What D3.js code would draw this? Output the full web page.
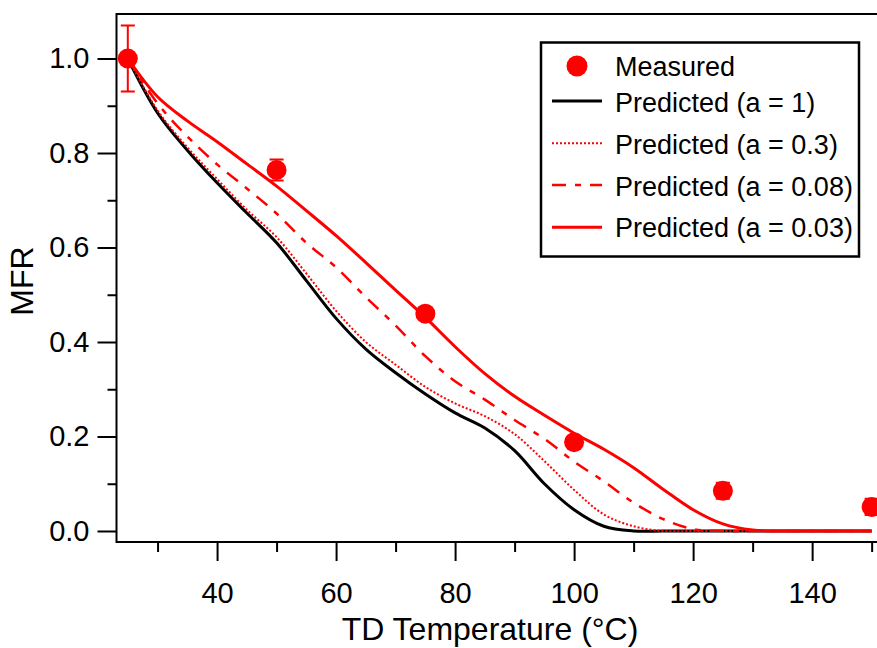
<!DOCTYPE html>
<html>
<head>
<meta charset="utf-8">
<script src="https://cdn.jsdelivr.net/npm/d3@7"></script>
<style>
  body { margin: 0; background: #fff; }
  svg { display: block; font-family: "Liberation Sans", Arial, sans-serif; }
</style>
</head>
<body>
<svg id="chart" width="877" height="648"></svg>
<script>
// measured points
const measTemp = [25, 50, 75, 100, 125, 150];
const measMfr = [1.0, 0.764, 0.46, 0.188, 0.085, 0.051];
const measErr = [0.07, 0.022, 0.004, 0.008, 0.017, 0.017];

// model curves, shared temperature grid
const gridTemp = [25, 30, 35, 40, 45, 50, 55, 60, 65, 70, 75, 80, 85, 90, 95, 100, 105, 110, 115, 120, 125, 130, 135, 140, 145, 150];
const predA1   = [1, 0.885, 0.806, 0.737, 0.673, 0.61, 0.53, 0.45, 0.385, 0.335, 0.29, 0.25, 0.218, 0.17, 0.10, 0.045, 0.01, 0, 0, 0, 0, 0, 0, 0, 0, 0];
const predA03  = [1, 0.89, 0.812, 0.745, 0.68, 0.622, 0.545, 0.466, 0.40, 0.352, 0.305, 0.27, 0.243, 0.205, 0.148, 0.087, 0.035, 0.01, 0, 0, 0, 0, 0, 0, 0, 0];
const predA008 = [1, 0.905, 0.835, 0.776, 0.725, 0.672, 0.61, 0.558, 0.495, 0.435, 0.37, 0.317, 0.278, 0.235, 0.195, 0.147, 0.105, 0.06, 0.025, 0.004, 0, 0, 0, 0, 0, 0];
const predA003 = [1, 0.919, 0.868, 0.824, 0.777, 0.73, 0.678, 0.625, 0.568, 0.51, 0.452, 0.39, 0.333, 0.285, 0.245, 0.207, 0.173, 0.134, 0.088, 0.045, 0.015, 0.002, 0, 0, 0, 0];

const legendLabels = ["Measured", "Predicted (a = 1)", "Predicted (a = 0.3)", "Predicted (a = 0.08)", "Predicted (a = 0.03)"];
const xMajor = [40, 60, 80, 100, 120, 140];
const xMinor = [30, 50, 70, 90, 110, 130, 150];
const yMajor = [0, 0.2, 0.4, 0.6, 0.8, 1.0];
const yMinor = [0.1, 0.3, 0.5, 0.7, 0.9];

const svg = d3.select("#chart");
const plotL = 116.5, plotR = 877, plotT = 14, plotB = 542;

const x = d3.scaleLinear().domain([23.1, 150.9]).range([plotL, plotR]);
const y = d3.scaleLinear().domain([-0.0233, 1.0942]).range([plotB, plotT]);

const series = [
  { values: predA1,   color: "#000", width: 3,   dash: null },
  { values: predA03,  color: "#f00", width: 2,   dash: "2,2" },
  { values: predA008, color: "#f00", width: 2.5, dash: "14,9,6,9" },
  { values: predA003, color: "#f00", width: 3,   dash: null }
];

// axes
svg.append("g").attr("transform", `translate(${plotL},0)`)
  .call(d3.axisLeft(y).tickValues(yMajor).tickSize(19).tickPadding(8).tickFormat(d3.format(".1f")));
svg.append("g").attr("transform", `translate(${plotL},0)`)
  .call(d3.axisLeft(y).tickValues(yMinor).tickSize(9).tickFormat(""));
svg.append("g").attr("transform", `translate(0,${plotB})`)
  .call(d3.axisBottom(x).tickValues(xMajor).tickSize(19).tickPadding(21).tickFormat(d3.format("d")));
svg.append("g").attr("transform", `translate(0,${plotB})`)
  .call(d3.axisBottom(x).tickValues(xMinor).tickSize(10).tickFormat(""));

svg.selectAll(".domain").remove();
svg.selectAll(".tick line").attr("stroke", "#000").attr("stroke-width", 2);
svg.selectAll(".tick text").attr("font-size", 29).attr("fill", "#000").attr("font-family", "Liberation Sans, Arial, sans-serif");

// frame
svg.append("path")
  .attr("d", `M${plotR + 5},${plotT}H${plotL}V${plotB}H${plotR + 5}`)
  .attr("fill", "none").attr("stroke", "#000").attr("stroke-width", 2);

// titles
svg.append("text").attr("x", 490).attr("y", 640).attr("text-anchor", "middle")
  .attr("font-size", 32).text("TD Temperature (°C)");
svg.append("text").attr("transform", "translate(33,281) rotate(-90)").attr("text-anchor", "middle")
  .attr("font-size", 32).text("MFR");

// curves
const line = d3.line()
  .x((d, i) => x(gridTemp[i]))
  .y(d => y(d))
  .curve(d3.curveCatmullRom.alpha(0.5));

series.forEach(s => {
  svg.append("path")
    .attr("d", line(s.values))
    .attr("fill", "none")
    .attr("stroke", s.color)
    .attr("stroke-width", s.width)
    .attr("stroke-dasharray", s.dash)
    .attr("stroke-linejoin", "round");
});

// measured with error bars
const pts = svg.append("g");
measTemp.forEach((t, i) => {
  const cx = x(t);
  const y1 = y(measMfr[i] + measErr[i]), y0 = y(measMfr[i] - measErr[i]);
  pts.append("path")
    .attr("d", `M${cx},${y1}V${y0}M${cx - 7},${y1}H${cx + 7}M${cx - 7},${y0}H${cx + 7}`)
    .attr("stroke", "#f00").attr("stroke-width", 2).attr("fill", "none");
  pts.append("circle").attr("cx", cx).attr("cy", y(measMfr[i])).attr("r", 10).attr("fill", "#f00");
});

// legend
const lg = svg.append("g");
lg.append("rect").attr("x", 541).attr("y", 42.5).attr("width", 318).attr("height", 214)
  .attr("fill", "#fff").attr("stroke", "#000").attr("stroke-width", 2.5);
const baselines = [76, 112, 153.5, 195.5, 237];
const sampleY = [66, 101, 143.3, 185, 227.3];
legendLabels.forEach((lab, i) => {
  lg.append("text").attr("x", 615).attr("y", baselines[i]).attr("font-size", 27).text(lab);
  if (i === 0) {
    lg.append("circle").attr("cx", 577).attr("cy", sampleY[0]).attr("r", 10.5).attr("fill", "#f00");
  } else {
    const s = series[i - 1];
    lg.append("line").attr("x1", 552).attr("x2", 602).attr("y1", sampleY[i]).attr("y2", sampleY[i])
      .attr("stroke", s.color).attr("stroke-width", s.width).attr("stroke-dasharray", s.dash);
  }
});
</script>
</body>
</html>
